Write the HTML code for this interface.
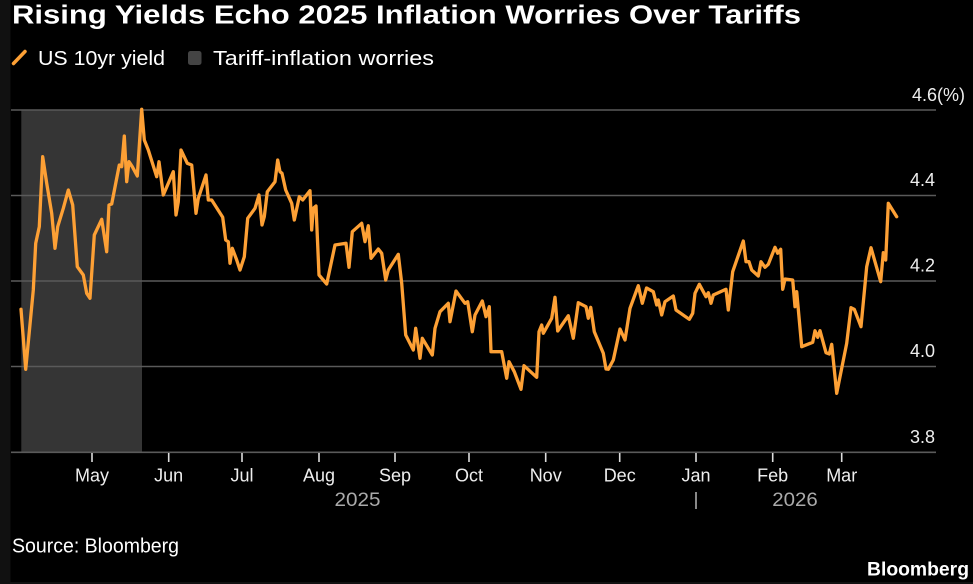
<!DOCTYPE html>
<html><head><meta charset="utf-8"><style>
html,body{margin:0;padding:0;background:#000;}
svg{display:block;}
text{font-family:"Liberation Sans","DejaVu Sans",sans-serif;}
</style></head><body>
<svg width="973" height="584" viewBox="0 0 973 584" xmlns="http://www.w3.org/2000/svg">
<rect x="0" y="0" width="973" height="584" fill="#000"/>
<rect x="0" y="0" width="10.5" height="584" fill="#111"/>
<rect x="0" y="582" width="973" height="2" fill="#111"/>
<text x="12" y="23.5" font-size="25.5" font-weight="bold" fill="#fff" textLength="789" lengthAdjust="spacingAndGlyphs">Rising Yields Echo 2025 Inflation Worries Over Tariffs</text>
<line x1="13.5" y1="63.5" x2="25" y2="51.5" stroke="#fda035" stroke-width="3.5" stroke-linecap="round"/>
<text x="38" y="65" font-size="20" fill="#fff" textLength="127" lengthAdjust="spacingAndGlyphs">US 10yr yield</text>
<rect x="188" y="51" width="13.5" height="14" rx="2.5" fill="#444"/>
<text x="213" y="65" font-size="20" fill="#fff" textLength="221" lengthAdjust="spacingAndGlyphs">Tariff-inflation worries</text>
<rect x="21.3" y="110" width="120.7" height="342" fill="#353535"/>
<g stroke="#5a5a5a" stroke-width="1.6">
<line x1="11" y1="110" x2="936" y2="110"/>
<line x1="11" y1="195.5" x2="936" y2="195.5"/>
<line x1="11" y1="281" x2="936" y2="281"/>
<line x1="11" y1="366.5" x2="936" y2="366.5"/>
<line x1="11" y1="452.3" x2="936" y2="452.3"/>
</g>
<g fill="#eee" font-size="18" text-anchor="end">
<text x="935" y="186">4.4</text>
<text x="935" y="271.5">4.2</text>
<text x="935" y="357">4.0</text>
<text x="935" y="443">3.8</text>
</g>
<text x="912" y="101" font-size="18" fill="#eee" textLength="53" lengthAdjust="spacingAndGlyphs">4.6(%)</text>
<g stroke="#ddd" stroke-width="1.6">
<line x1="92" y1="453" x2="92" y2="462"/>
<line x1="168.7" y1="453" x2="168.7" y2="462"/>
<line x1="242" y1="453" x2="242" y2="462"/>
<line x1="319" y1="453" x2="319" y2="462"/>
<line x1="395" y1="453" x2="395" y2="462"/>
<line x1="469" y1="453" x2="469" y2="462"/>
<line x1="545.7" y1="453" x2="545.7" y2="462"/>
<line x1="619.7" y1="453" x2="619.7" y2="462"/>
<line x1="696" y1="453" x2="696" y2="462"/>
<line x1="772.7" y1="453" x2="772.7" y2="462"/>
<line x1="841.7" y1="453" x2="841.7" y2="462"/>
<line x1="696" y1="492" x2="696" y2="509" stroke="#aaa"/>
</g>
<g fill="#eee" font-size="18" text-anchor="middle">
<text x="92" y="481.5">May</text>
<text x="168.7" y="481.5">Jun</text>
<text x="242" y="481.5">Jul</text>
<text x="319" y="481.5">Aug</text>
<text x="395" y="481.5">Sep</text>
<text x="469" y="481.5">Oct</text>
<text x="545.7" y="481.5">Nov</text>
<text x="619.7" y="481.5">Dec</text>
<text x="696" y="481.5">Jan</text>
<text x="772.7" y="481.5">Feb</text>
<text x="841.7" y="481.5">Mar</text>
</g>
<g fill="#aaa" font-size="19">
<text x="334.5" y="506" textLength="46" lengthAdjust="spacingAndGlyphs">2025</text>
<text x="772.3" y="506" textLength="45.5" lengthAdjust="spacingAndGlyphs">2026</text>
</g>
<polyline fill="none" stroke="#fda035" stroke-width="3.3" stroke-linejoin="round" stroke-linecap="round" points="21,309.3 25.7,369.3 33.3,290 35.7,243.3 39.3,226.7 42.7,156.7 46.7,183.3 51.7,213.3 55,248.3 57.7,226.7 63.3,208.3 68.3,190 72.7,205 77.3,266.7 83.3,275 86.7,293.3 90,298.3 94.3,235 101.7,219.3 106.7,251.7 109,205 111.7,204 119.3,165 121.7,166.7 124.3,136 126.7,181.7 129,161.7 132.3,166.7 137.3,176 141.7,109.3 144.3,140 148.3,150 156.7,176.7 159,161.7 163.3,195 173.3,171.7 176,215 178.3,201.7 181,150 187.3,163.3 191.7,165 196,213.3 198.3,198.3 206,175 208.3,200 211.7,200 222.7,217.3 225.7,240 228.3,241.7 230,263.3 232.3,248.3 236.7,260 240,270 244.3,256.7 247.7,218.3 255,208.3 259,195 262,225 264.3,216.7 267.3,191.7 275,181.7 277.7,160 280,171.7 282,173.3 285.7,190 291.7,203.3 294.3,220 299.3,196.7 302.7,200 310,190.7 311.7,230 313.3,208.3 316,206 319,275 326.7,284 335,245 346,243.3 349,267.3 352.3,231.7 361.7,223.3 365,241.7 368.3,225.7 371,258.3 378.3,249 381.7,253.3 385.7,280 388.3,270 398.3,254.3 401.7,283.3 405.7,335 413.3,350 415.7,328.3 420,358.3 422.3,338.3 432.3,355 435,328.3 440,311.7 448.3,303.3 450,321.7 456,291 465,303.3 467.7,301.7 472.3,331.7 475,315 482.3,301 486,316.7 489.3,306.7 491,351.7 501.7,351.7 506.7,378.3 509,361.7 514.3,371.7 521,389.3 524,365.7 536.7,377.3 539,331.7 541.7,325 543.3,333.3 551.7,318.3 555,297.3 557.7,331 568.3,315.7 573.3,338.3 578.3,302.7 586,306.7 588.3,318.3 590.7,307.3 594.3,331.7 603.3,353.3 606,369 608.3,369.3 613.3,360 620,329 625,340 630,308.3 638.3,285.7 642.3,303.3 646.5,288 653.3,291.7 656.7,305 658.3,300 661.7,315 665,301.7 673.3,296 676,310 689.3,319.3 692.7,313.3 695,293.3 699.3,284.3 706,296.7 708.3,292.7 711,303.3 713.3,295 726,289.3 728.3,310 732.7,271.7 743.3,241 746,261.7 749,261.7 751.7,270 758.3,276 761,261.7 765,267.3 768.3,264.3 775,247.3 777.7,253.3 780.7,249.3 782.7,289.3 785,279 792.7,280 795,306.7 796.7,291.7 801.7,346.7 812.7,342.3 815,330.7 817.7,337.3 820,330.7 826,352.7 829.3,354 831.7,344.3 836.7,393.3 846.7,343.3 851,307.7 854.3,309.3 861,326.7 866.7,266.7 871,247.7 880.7,281.7 883.3,252.7 885.7,260 888.3,203.3 896.7,216.7"/>
<text x="12" y="552.5" font-size="20" fill="#fff" textLength="167" lengthAdjust="spacingAndGlyphs">Source: Bloomberg</text>
<text x="867" y="575.5" font-size="19.5" font-weight="bold" fill="#fff" textLength="102" lengthAdjust="spacingAndGlyphs">Bloomberg</text>
</svg>
</body></html>
